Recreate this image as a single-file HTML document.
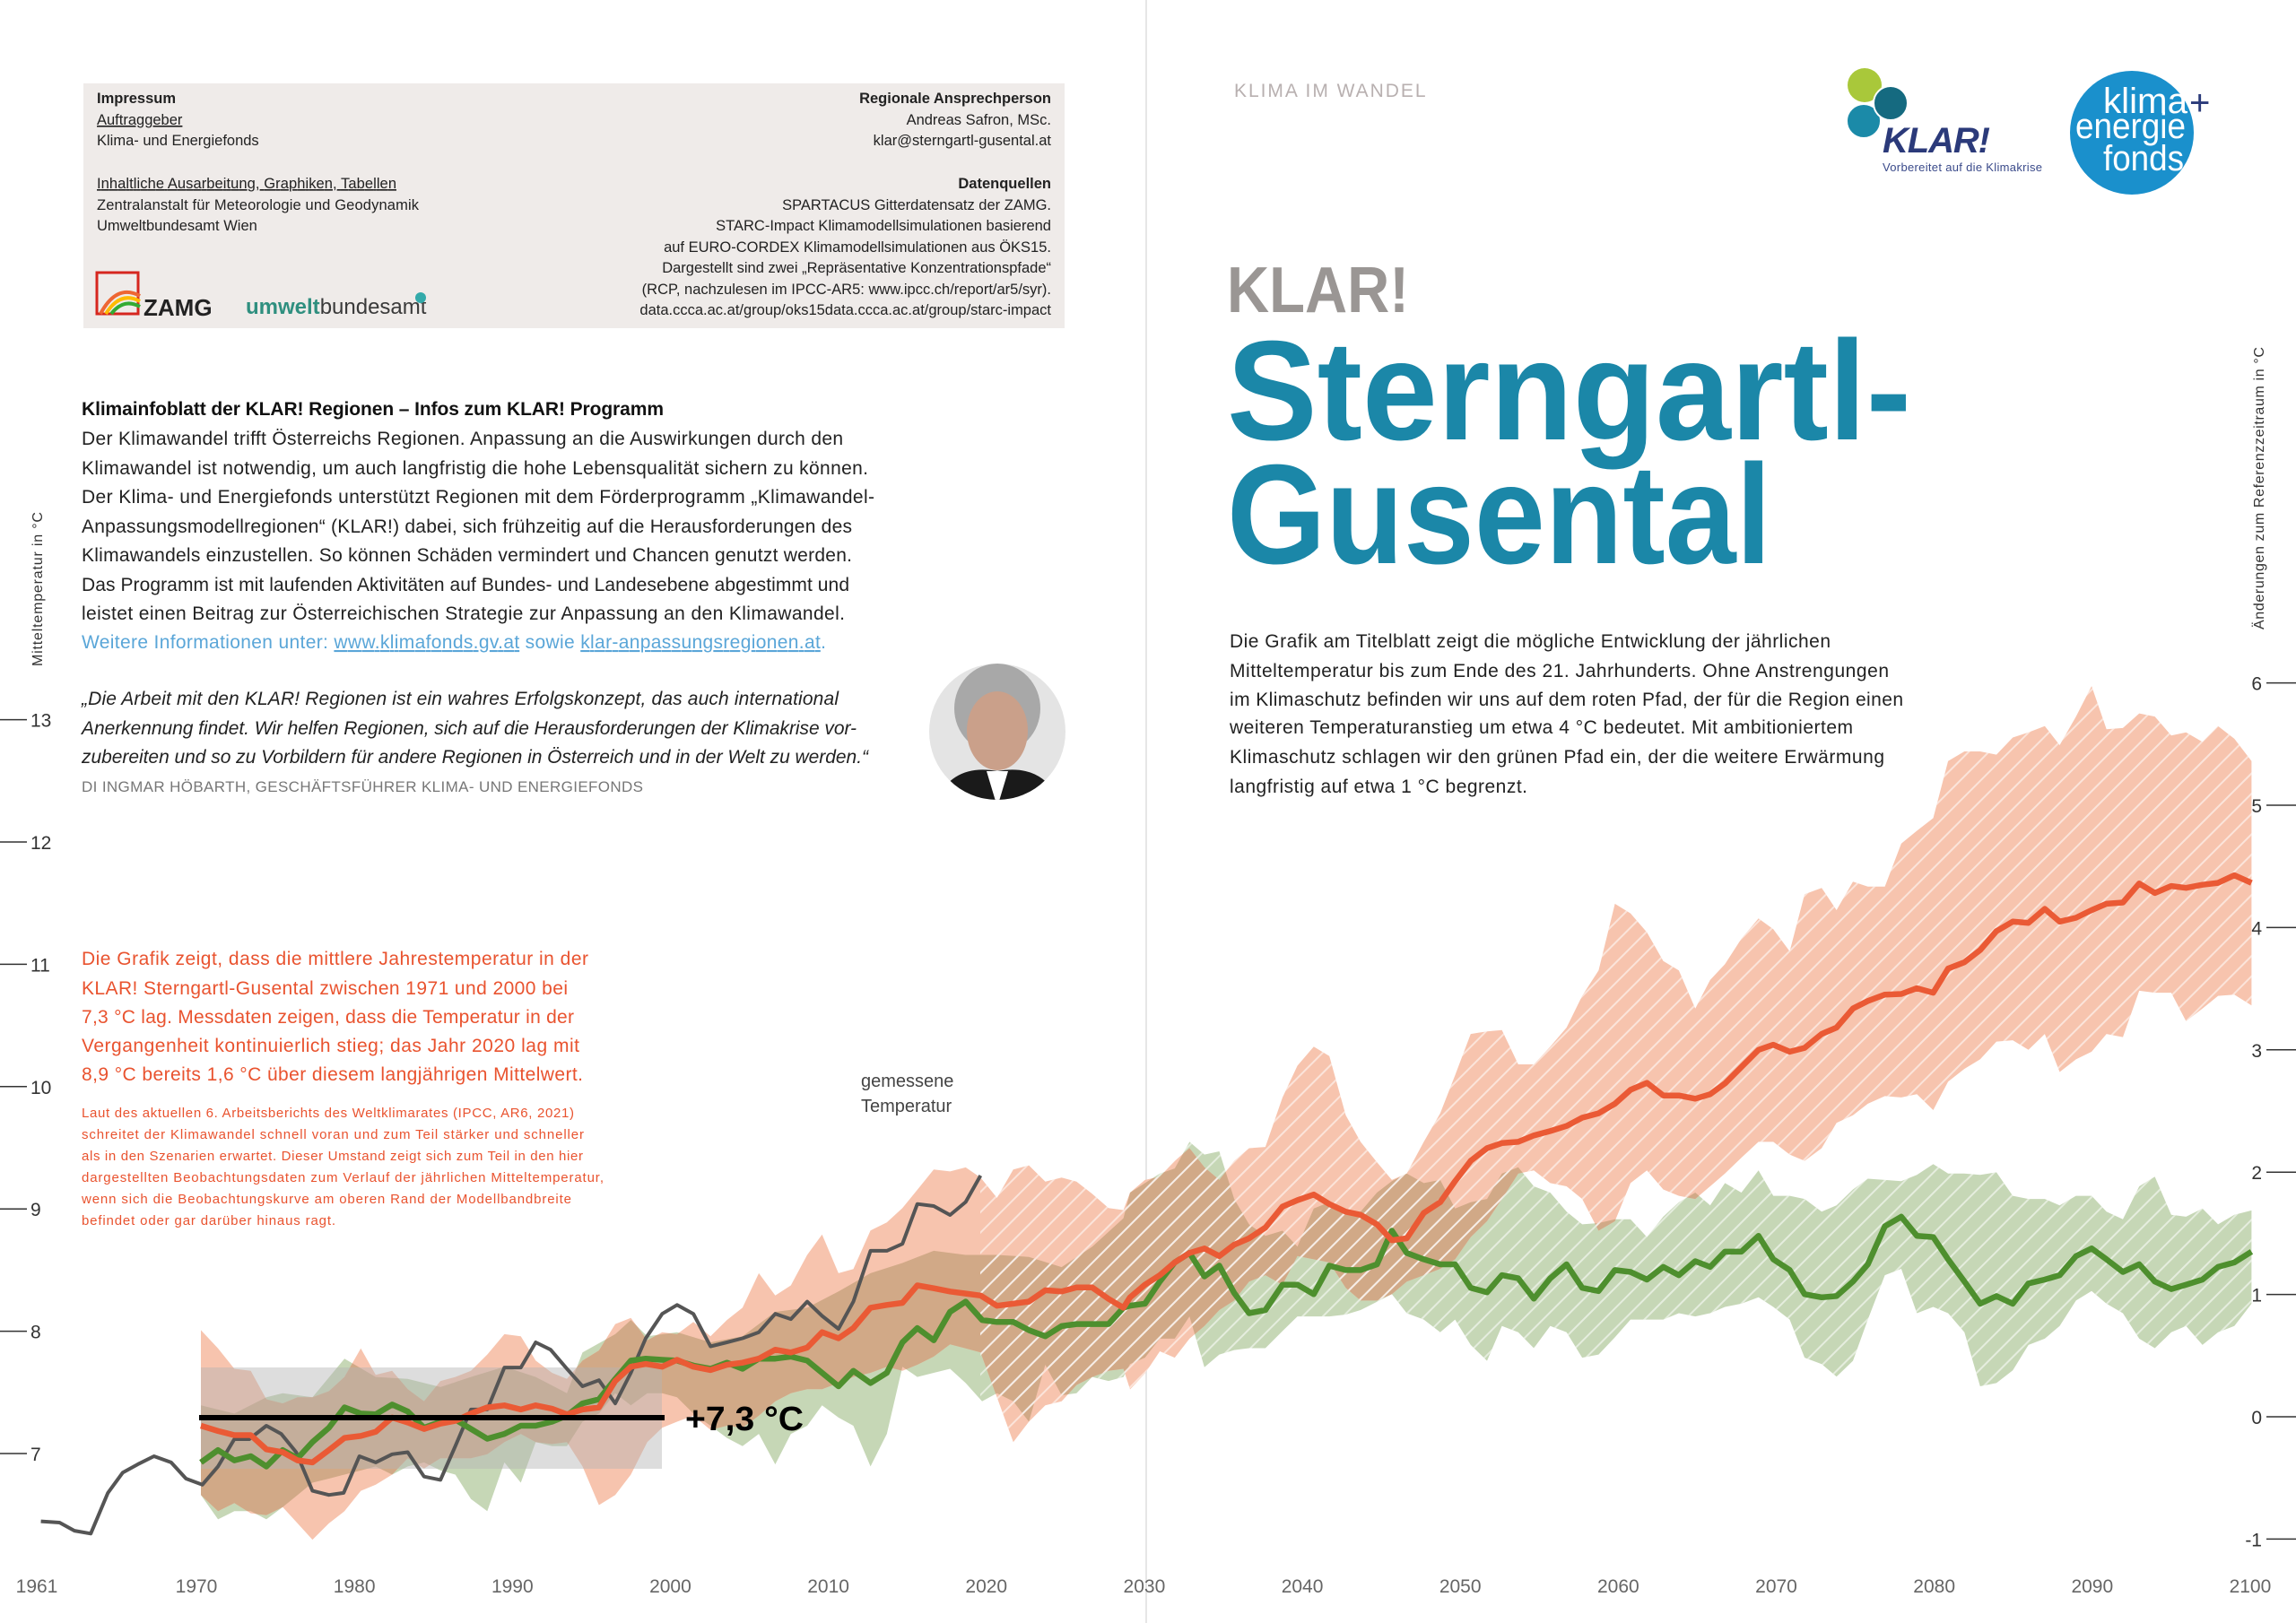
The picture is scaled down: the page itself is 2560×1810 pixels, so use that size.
<!DOCTYPE html>
<html><head><meta charset="utf-8"><style>
html,body{margin:0;padding:0;background:#fff}
svg{display:block}
text{font-family:"Liberation Sans",sans-serif}
</style></head><body>
<svg id="s" width="2560" height="1810" viewBox="0 0 2560 1810" xmlns="http://www.w3.org/2000/svg">
<defs>
<pattern id="hatch" patternUnits="userSpaceOnUse" width="16" height="16" patternTransform="rotate(45)">
<rect x="0" y="0" width="2" height="16" fill="#fff" fill-opacity="0.55"/>
</pattern>
<clipPath id="hclip"><rect x="1093" y="0" width="1420" height="1810"/></clipPath>
<clipPath id="gclip"><polygon id="gcp" points="0,0"/></clipPath>
</defs>
<rect width="2560" height="1810" fill="#fff"/>
<line x1="1278" y1="0" x2="1278" y2="1810" stroke="#e6e6e6" stroke-width="2"/>

<rect x="93" y="93" width="1094" height="273" fill="#efebe9"/>
<g font-size="16.5" fill="#222">
<text x="108" y="115" font-weight="bold">Impressum</text>
<text x="108" y="139" text-decoration="underline">Auftraggeber</text>
<text x="108" y="162">Klima- und Energiefonds</text>
<text x="108" y="210" text-decoration="underline" textLength="334">Inhaltliche Ausarbeitung, Graphiken, Tabellen</text>
<text x="108" y="234" textLength="359">Zentralanstalt für Meteorologie und Geodynamik</text>
<text x="108" y="257">Umweltbundesamt Wien</text>
</g>
<g font-size="16.5" fill="#222" text-anchor="end">
<text x="1172" y="115" font-weight="bold">Regionale Ansprechperson</text>
<text x="1172" y="139">Andreas Safron, MSc.</text>
<text x="1172" y="162">klar@sterngartl-gusental.at</text>
<text x="1172" y="210" font-weight="bold">Datenquellen</text>
<text x="1172" y="234">SPARTACUS Gitterdatensatz der ZAMG.</text>
<text x="1172" y="257">STARC-Impact Klimamodellsimulationen basierend</text>
<text x="1172" y="281">auf EURO-CORDEX Klimamodellsimulationen aus ÖKS15.</text>
<text x="1172" y="304">Dargestellt sind zwei „Repräsentative Konzentrationspfade“</text>
<text x="1172" y="328">(RCP, nachzulesen im IPCC-AR5: www.ipcc.ch/report/ar5/syr).</text>
<text x="1172" y="351">data.ccca.ac.at/group/oks15data.ccca.ac.at/group/starc-impact</text>
</g>
<rect x="108" y="304" width="46" height="46" fill="none" stroke="#d6261e" stroke-width="3"/>
<path d="M112 350 Q130 316 156 330" stroke="#e63" stroke-width="4" fill="none"/>
<path d="M118 350 Q134 324 156 336" stroke="#fb0" stroke-width="4" fill="none"/>
<path d="M124 350 Q138 332 156 342" stroke="#3a3" stroke-width="4" fill="none"/>
<text x="160" y="352" font-size="26" font-weight="bold" fill="#222">ZAMG</text>
<text x="274" y="350" font-size="24" fill="#2f8f7f" font-weight="bold">umwelt<tspan font-weight="normal" fill="#3a3a3a">bundesamt</tspan></text>
<circle cx="469" cy="332" r="6" fill="#3aa"/>

<text x="91" y="463" font-size="21" font-weight="bold" fill="#111" textLength="649">Klimainfoblatt der KLAR! Regionen – Infos zum KLAR! Programm</text>
<g font-size="21" fill="#222">
<text x="91" y="496" textLength="849">Der Klimawandel trifft Österreichs Regionen. Anpassung an die Auswirkungen durch den</text>
<text x="91" y="529" textLength="877">Klimawandel ist notwendig, um auch langfristig die hohe Lebensqualität sichern zu können.</text>
<text x="91" y="561" textLength="884">Der Klima- und Energiefonds unterstützt Regionen mit dem Förderprogramm „Klimawandel-</text>
<text x="91" y="594" textLength="859">Anpassungsmodellregionen“ (KLAR!) dabei, sich frühzeitig auf die Herausforderungen des</text>
<text x="91" y="626" textLength="859">Klimawandels einzustellen. So können Schäden vermindert und Chancen genutzt werden.</text>
<text x="91" y="659" textLength="856">Das Programm ist mit laufenden Aktivitäten auf Bundes- und Landesebene abgestimmt und</text>
<text x="91" y="691" textLength="851">leistet einen Beitrag zur Österreichischen Strategie zur Anpassung an den Klimawandel.</text>
<text x="91" y="723" textLength="830" fill="#5aa6d8">Weitere Informationen unter: <tspan text-decoration="underline">www.klimafonds.gv.at</tspan> sowie <tspan text-decoration="underline">klar-anpassungsregionen.at</tspan>.</text>
</g>
<g font-size="21" fill="#222" font-style="italic">
<text x="91" y="786" textLength="844">„Die Arbeit mit den KLAR! Regionen ist ein wahres Erfolgskonzept, das auch international</text>
<text x="91" y="819" textLength="864">Anerkennung findet. Wir helfen Regionen, sich auf die Herausforderungen der Klimakrise vor-</text>
<text x="91" y="851" textLength="877">zubereiten und so zu Vorbildern für andere Regionen in Österreich und in der Welt zu werden.“</text>
</g>
<text x="91" y="883" font-size="17" fill="#777" textLength="626">DI INGMAR HÖBARTH, GESCHÄFTSFÜHRER KLIMA- UND ENERGIEFONDS</text>
<clipPath id="pc"><circle cx="1112" cy="816" r="76"/></clipPath>
<g clip-path="url(#pc)">
<rect x="1030" y="735" width="170" height="170" fill="#e4e4e4"/>
<ellipse cx="1112" cy="790" rx="48" ry="50" fill="#a8a8a8"/>
<ellipse cx="1112" cy="815" rx="34" ry="44" fill="#caa08a"/>
<path d="M1040 900 Q1060 850 1112 860 Q1165 850 1185 900 Z" fill="#1a1a1a"/>
<path d="M1100 860 L1112 900 L1124 860 Z" fill="#fff"/>
</g>

<g font-size="21" fill="#e9532f">
<text x="91" y="1076" textLength="565">Die Grafik zeigt, dass die mittlere Jahrestemperatur in der</text>
<text x="91" y="1109" textLength="542">KLAR! Sterngartl-Gusental zwischen 1971 und 2000 bei</text>
<text x="91" y="1141" textLength="549">7,3 °C lag. Messdaten zeigen, dass die Temperatur in der</text>
<text x="91" y="1173" textLength="555">Vergangenheit kontinuierlich stieg; das Jahr 2020 lag mit</text>
<text x="91" y="1205" textLength="559">8,9 °C bereits 1,6 °C über diesem langjährigen Mittelwert.</text>
</g>
<g font-size="15" fill="#e9532f">
<text x="91" y="1246" textLength="549">Laut des aktuellen 6. Arbeitsberichts des Weltklimarates (IPCC, AR6, 2021)</text>
<text x="91" y="1270" textLength="560">schreitet der Klimawandel schnell voran und zum Teil stärker und schneller</text>
<text x="91" y="1294" textLength="559">als in den Szenarien erwartet. Dieser Umstand zeigt sich zum Teil in den hier</text>
<text x="91" y="1318" textLength="582">dargestellten Beobachtungsdaten zum Verlauf der jährlichen Mitteltemperatur,</text>
<text x="91" y="1342" textLength="546">wenn sich die Beobachtungskurve am oberen Rand der Modellbandbreite</text>
<text x="91" y="1366" textLength="283">befindet oder gar darüber hinaus ragt.</text>
</g>
<text x="960" y="1212" font-size="20" fill="#444">gemessene</text>
<text x="960" y="1240" font-size="20" fill="#444">Temperatur</text>

<text x="1376" y="108" font-size="21" fill="#b8b0b0" letter-spacing="1.5" textLength="215">KLIMA IM WANDEL</text>
<text x="1368" y="348" font-size="72" font-weight="bold" fill="#9a9694" textLength="203" lengthAdjust="spacingAndGlyphs">KLAR!</text>
<text x="1368" y="490" font-size="158" font-weight="bold" fill="#1b87a8" textLength="763" lengthAdjust="spacingAndGlyphs">Sterngartl-</text>
<text x="1368" y="628" font-size="158" font-weight="bold" fill="#1b87a8" textLength="607" lengthAdjust="spacingAndGlyphs">Gusental</text>
<g font-size="21" fill="#222">
<text x="1371" y="722" textLength="670">Die Grafik am Titelblatt zeigt die mögliche Entwicklung der jährlichen</text>
<text x="1371" y="755" textLength="735">Mitteltemperatur bis zum Ende des 21. Jahrhunderts. Ohne Anstrengungen</text>
<text x="1371" y="787" textLength="751">im Klimaschutz befinden wir uns auf dem roten Pfad, der für die Region einen</text>
<text x="1371" y="818" textLength="695">weiteren Temperaturanstieg um etwa 4 °C bedeutet. Mit ambitioniertem</text>
<text x="1371" y="851" textLength="730">Klimaschutz schlagen wir den grünen Pfad ein, der die weitere Erwärmung</text>
<text x="1371" y="884" textLength="332">langfristig auf etwa 1 °C begrenzt.</text>
</g>
<circle cx="2079" cy="95" r="19" fill="#a9c83a"/>
<circle cx="2078" cy="135" r="19" fill="#1b8aa8" stroke="#fff" stroke-width="2"/>
<circle cx="2108" cy="115" r="19" fill="#156a80" stroke="#fff" stroke-width="2"/>
<text x="2099" y="170" font-size="40" font-style="italic" font-weight="bold" fill="#2b3a7a" textLength="120">KLAR!</text>
<text x="2099" y="191" font-size="13" fill="#3a4a8a" textLength="178">Vorbereitet auf die Klimakrise</text>
<circle cx="2377" cy="148" r="69" fill="#1a90cc"/>
<g font-size="40" fill="#fff">
<text x="2345" y="126" textLength="94" lengthAdjust="spacingAndGlyphs">klima</text>
<text x="2314" y="154" textLength="123" lengthAdjust="spacingAndGlyphs">energie</text>
<text x="2345" y="190" textLength="90" lengthAdjust="spacingAndGlyphs">fonds</text>
</g>
<text x="2441" y="128" font-size="40" fill="#2b3a7a">+</text>

<text transform="translate(47,743) rotate(-90)" font-size="16" fill="#333" textLength="172">Mitteltemperatur in °C</text>
<text transform="translate(2524,702) rotate(-90)" font-size="16" fill="#333" textLength="315">Änderungen zum Referenzzeitraum in °C</text>

<g id="chart"></g>
<g id="axes" font-size="21" fill="#333"></g>
</svg>
<script>
var NS="http://www.w3.org/2000/svg";
function el(p,t,a){var e=document.createElementNS(NS,t);for(var k in a)e.setAttribute(k,a[k]);p.appendChild(e);return e;}
function z1(a){var r=[];for(var i=0;i<a.length;i+=2){var x=a[i]/1.2055,y=1100+a[i+1]/2.204;if(x<1262)r.push([x,y]);}return r;}
function z2(a){var r=[];for(var i=0;i<a.length;i+=2){r.push([1260+a[i]/1.206,700+a[i+1]/1.4126]);}return r;}
function pts(r){return r.map(function(p){return p[0].toFixed(1)+","+p[1].toFixed(1)}).join(" ");}
var gray=z1([55,1315,80,1318,100,1338,122,1345,145,1245,165,1195,185,1175,207,1155,230,1170,250,1210,272,1225,293,1180,315,1113,335,1113,358,1080,378,1100,398,1145,420,1240,442,1250,462,1245,483,1155,505,1170,527,1150,548,1145,570,1205,592,1213,612,1130,633,1040,655,1040,678,937,700,937,720,875,740,893,762,940,783,983,805,968,827,1025,848,950,868,865,890,805,910,783,932,805,955,885,977,875,998,865,1020,850,1042,805,1063,818,1085,775,1105,810,1127,842,1147,775,1170,650,1192,650,1213,633,1233,535,1255,540,1277,562,1298,530,1318,465]);
var red=z1([270,1080,293,1093,315,1103,337,1103,358,1138,380,1145,400,1165,420,1170,442,1140,463,1110,485,1105,505,1095,527,1060,548,1072,570,1088,592,1075,612,1068,633,1050,655,1035,678,1030,700,1040,720,1030,742,1038,762,1052,783,1040,805,1035,827,970,848,935,868,928,890,935,910,918,932,935,955,943,977,930,998,925,1020,915,1042,893,1063,900,1085,888,1105,850,1127,865,1147,840,1170,790,1192,783,1213,778,1233,735,1255,742,1277,750,1298,755,1318,760,1340,785,1362,780,1383,775,1405,747,1427,750,1447,740,1468,740,1490,768,1510,790]).concat(z2([0,1055,20,1035,40,1020,60,1000,80,985,100,978,120,990,140,972,160,962,182,945,205,912,225,902,247,893,268,908,290,920,310,925,332,940,352,965,372,962,395,922,417,905,437,872,458,840,480,820,500,812,522,810,543,800,565,793,587,785,608,772,630,765,652,750,673,728,695,717,717,737,738,737,760,742,780,735,800,718,822,692,845,665,865,657,887,668,907,662,930,640,950,630,972,600,992,588,1015,578,1037,577,1058,568,1080,575,1100,537,1122,527,1143,508,1165,478,1187,463,1208,465,1230,443,1250,463,1272,457,1293,445,1313,435,1335,433,1357,403,1378,418,1400,407,1420,410,1442,405,1463,402,1485,390,1508,402]));
var green=z1([270,1170,293,1140,315,1165,337,1155,358,1180,380,1140,400,1160,420,1120,442,1085,463,1035,485,1050,505,1052,527,1028,548,1045,570,1085,592,1070,612,1065,633,1088,655,1112,678,1100,700,1080,720,1080,742,1070,762,1055,783,1025,805,1015,827,965,848,920,868,915,890,918,910,920,932,932,955,940,977,925,998,940,1020,915,1042,915,1063,910,1085,920,1105,950,1127,983,1147,945,1170,975,1192,950,1213,875,1233,840,1255,870,1277,800,1298,775,1320,820,1340,825,1362,825,1383,845,1405,860,1427,835,1447,830,1468,830,1490,830,1510,790]).concat(z2([0,1068,20,1065,40,1030,60,1000,80,985,100,1022,120,1005,140,1048,160,1080,182,1075,205,1035,225,1035,247,1050,268,1005,290,1012,310,1012,332,1003,352,950,372,985,395,995,417,1003,437,1003,458,1040,480,1047,500,1020,522,1025,543,1057,565,1025,587,1003,608,1040,630,1045,652,1012,673,1015,695,1027,717,1007,738,1020,760,998,780,1007,800,983,822,983,845,958,865,995,887,1012,907,1050,930,1055,950,1053,972,1030,992,1003,1015,943,1037,928,1058,958,1080,960,1100,995,1122,1030,1143,1065,1165,1053,1187,1065,1208,1033,1230,1027,1250,1020,1272,990,1293,978,1313,995,1335,1015,1357,1003,1378,1030,1400,1042,1420,1035,1442,1027,1463,1007,1485,1000,1508,983]));
var redU=z1([270,845,293,890,315,940,337,945,358,1015,380,1025,400,1010,420,1010,442,995,463,960,485,890,505,955,527,945,548,990,570,1020,592,970,612,960,633,945,655,905,678,855,700,860,720,920,742,950,762,965,783,920,805,895,827,830,848,815,870,870,890,850,910,855,932,825,955,860,977,820,998,790,1020,705,1042,760,1063,735,1085,660,1105,610,1127,705,1147,695,1170,600,1192,580,1213,545,1233,500,1255,450,1277,455,1298,445,1318,470,1340,520,1362,450,1383,440,1405,480,1427,470,1447,480,1468,510,1490,545,1510,550]).concat(z2([0,890,20,870,40,865,60,840,80,820,100,850,120,870,140,840,160,820,182,818,205,740,225,690,247,660,268,675,290,768,310,810,332,842,352,870,372,860,395,810,417,765,437,705,458,640,480,636,500,634,522,688,543,688,565,660,587,630,608,580,630,540,652,435,673,450,695,480,717,525,738,540,760,600,780,555,800,530,822,490,845,458,865,475,887,510,907,420,930,410,950,445,972,400,992,408,1015,408,1037,340,1058,320,1080,300,1100,210,1122,195,1143,195,1165,200,1187,173,1208,165,1230,155,1250,185,1272,140,1293,92,1313,160,1335,158,1357,135,1378,140,1400,170,1420,165,1442,180,1463,155,1485,175,1508,210]));
var redL=z1([270,1250,293,1290,315,1270,337,1295,358,1300,380,1280,400,1320,420,1360,442,1320,463,1290,485,1240,505,1225,527,1200,548,1160,570,1185,592,1160,612,1160,633,1160,655,1150,678,1120,700,1100,720,1120,742,1125,762,1120,783,1180,805,1275,827,1250,848,1200,870,1120,890,1085,910,1070,932,1055,955,1090,977,1080,998,1085,1020,1055,1042,1020,1063,1000,1085,990,1105,990,1127,975,1147,960,1170,950,1192,935,1213,945,1233,930,1255,910,1277,880,1298,890,1318,900,1340,1010,1362,1120,1383,1070,1405,1030,1427,1020,1447,980,1468,960,1490,945,1510,940]).concat(z2([0,1200,20,1175,40,1140,60,1150,80,1120,100,1100,120,1075,140,1060,160,1030,182,1020,205,1035,225,990,247,995,268,1000,290,1040,310,1060,332,1060,352,1050,372,1030,395,1020,417,1010,437,995,458,960,480,935,500,900,522,860,543,855,565,875,587,880,608,900,630,950,652,935,673,875,695,855,717,885,738,895,760,900,780,880,800,860,822,835,845,810,865,810,887,830,907,840,930,820,950,780,972,768,992,750,1015,738,1037,740,1058,735,1080,760,1100,715,1122,695,1143,680,1165,652,1187,650,1208,665,1230,640,1250,700,1272,680,1293,668,1313,640,1335,645,1357,572,1378,575,1400,575,1420,620,1442,600,1463,580,1485,578,1508,595]));
var greenU=z1([270,1030,315,1050,358,1010,380,1000,420,1010,463,915,505,960,548,965,592,985,633,960,678,935,720,960,762,1000,783,900,827,855,848,820,870,860,910,850,955,875,998,860,1042,800,1085,790,1127,750,1170,705,1213,680,1255,650,1298,660,1340,660,1383,665,1427,690,1468,640,1510,570]).concat(z2([0,890,40,860,60,852,80,810,100,830,120,825,140,900,160,940,182,958,205,950,225,975,247,915,268,905,290,920,310,920,332,890,352,872,372,860,395,875,417,870,437,915,458,905,480,900,500,860,522,850,543,880,565,890,587,920,608,940,630,938,652,932,673,932,695,960,717,928,738,905,760,890,780,910,800,875,822,890,845,855,865,895,887,895,907,900,930,920,950,910,972,885,992,868,1015,870,1037,872,1058,862,1080,845,1100,860,1122,860,1143,862,1165,858,1187,895,1208,900,1230,900,1250,910,1272,895,1293,895,1313,920,1335,932,1357,880,1378,865,1400,925,1420,928,1442,915,1463,940,1485,925,1508,918]));
var greenL=z1([270,1250,293,1310,315,1290,337,1290,358,1310,380,1280,400,1250,420,1220,442,1210,463,1200,485,1190,505,1180,527,1200,548,1180,570,1170,592,1190,612,1200,633,1260,655,1290,678,1170,700,1220,720,1120,742,1130,762,1130,783,1070,805,1050,827,1000,848,1030,870,1000,890,1000,910,1010,932,1050,955,1080,977,1110,998,1130,1020,1100,1042,1175,1063,1100,1085,1080,1105,1030,1127,1060,1147,1080,1170,1180,1192,1100,1213,935,1233,960,1255,950,1277,940,1298,975,1320,1020,1340,1000,1362,1020,1383,1070,1405,930,1427,1005,1447,1000,1468,960,1490,970,1510,960]).concat(z2([0,1160,20,1150,40,1120,60,1120,80,1085,100,1165,120,1145,140,1138,160,1135,182,1135,205,1108,225,1085,247,1085,268,1085,290,1082,310,1075,332,1062,352,1050,372,1080,395,1090,417,1110,437,1090,458,1130,480,1155,500,1100,522,1110,543,1135,565,1100,587,1110,608,1150,630,1145,652,1118,673,1090,695,1090,717,1090,738,1080,760,1085,780,1080,800,1070,822,1065,845,1055,865,1070,887,1090,907,1150,930,1160,950,1180,972,1155,992,1090,1015,1020,1037,1010,1058,1080,1080,1070,1100,1080,1122,1110,1143,1195,1165,1190,1187,1170,1208,1130,1230,1120,1250,1100,1272,1060,1293,1045,1313,1065,1335,1080,1357,1120,1378,1135,1400,1110,1420,1100,1442,1130,1463,1110,1485,1100,1508,1065]));
var c=document.getElementById("chart");
var gp=pts(greenU.concat(greenL.slice().reverse())), rp=pts(redU.concat(redL.slice().reverse()));
document.getElementById("gcp").setAttribute("points",gp);
el(c,"polygon",{points:gp,fill:"#c6d7b6"});
el(c,"polygon",{points:rp,fill:"#f7c4ae"});
var ov=el(c,"g",{"clip-path":"url(#gclip)"});
el(ov,"polygon",{points:rp,fill:"#d1a987"});
var hg=el(c,"g",{"clip-path":"url(#hclip)"});
el(hg,"polygon",{points:gp,fill:"url(#hatch)"});
el(hg,"polygon",{points:rp,fill:"url(#hatch)"});
el(c,"rect",{x:224,y:1525,width:514,height:113,fill:"#b4b4b4","fill-opacity":0.45});
el(c,"polyline",{points:pts(gray),fill:"none",stroke:"#555","stroke-width":4,"stroke-linejoin":"round"});
el(c,"polyline",{points:pts(green),fill:"none",stroke:"#4e8f2e","stroke-width":6.5,"stroke-linejoin":"round"});
el(c,"polyline",{points:pts(red),fill:"none",stroke:"#ea5a35","stroke-width":6.5,"stroke-linejoin":"round"});
el(c,"line",{x1:222,y1:1581,x2:741,y2:1581,stroke:"#000","stroke-width":6});
var t=el(c,"text",{x:764,y:1595,"font-size":38,"font-weight":"bold",fill:"#000",textLength:132,lengthAdjust:"spacingAndGlyphs"});t.textContent="+7,3 °C";
var ax=document.getElementById("axes");
for(var v=7;v<=13;v++){var y=1621-(v-7)*136.4;el(ax,"line",{x1:0,y1:y,x2:30,y2:y,stroke:"#333","stroke-width":1.5});var tt=el(ax,"text",{x:34,y:y+8});tt.textContent=v;}
for(var a=-1;a<=6;a++){var y=1580-a*136.4;el(ax,"line",{x1:2527,y1:y,x2:2560,y2:y,stroke:"#333","stroke-width":1.5});var tt=el(ax,"text",{x:2522,y:y+8,"text-anchor":"end"});tt.textContent=(a<0?"-1":a);}
var yrs=[1970,1980,1990,2000,2010,2020,2030,2040,2050,2060,2070,2080,2090,2100];
var t0=el(ax,"text",{x:41,y:1776,"text-anchor":"middle",fill:"#666"});t0.textContent="1961";
yrs.forEach(function(yr){var x=219+(yr-1970)*17.615;var tt=el(ax,"text",{x:x,y:1776,"text-anchor":"middle",fill:"#666"});tt.textContent=yr;});
</script>
</body></html>
